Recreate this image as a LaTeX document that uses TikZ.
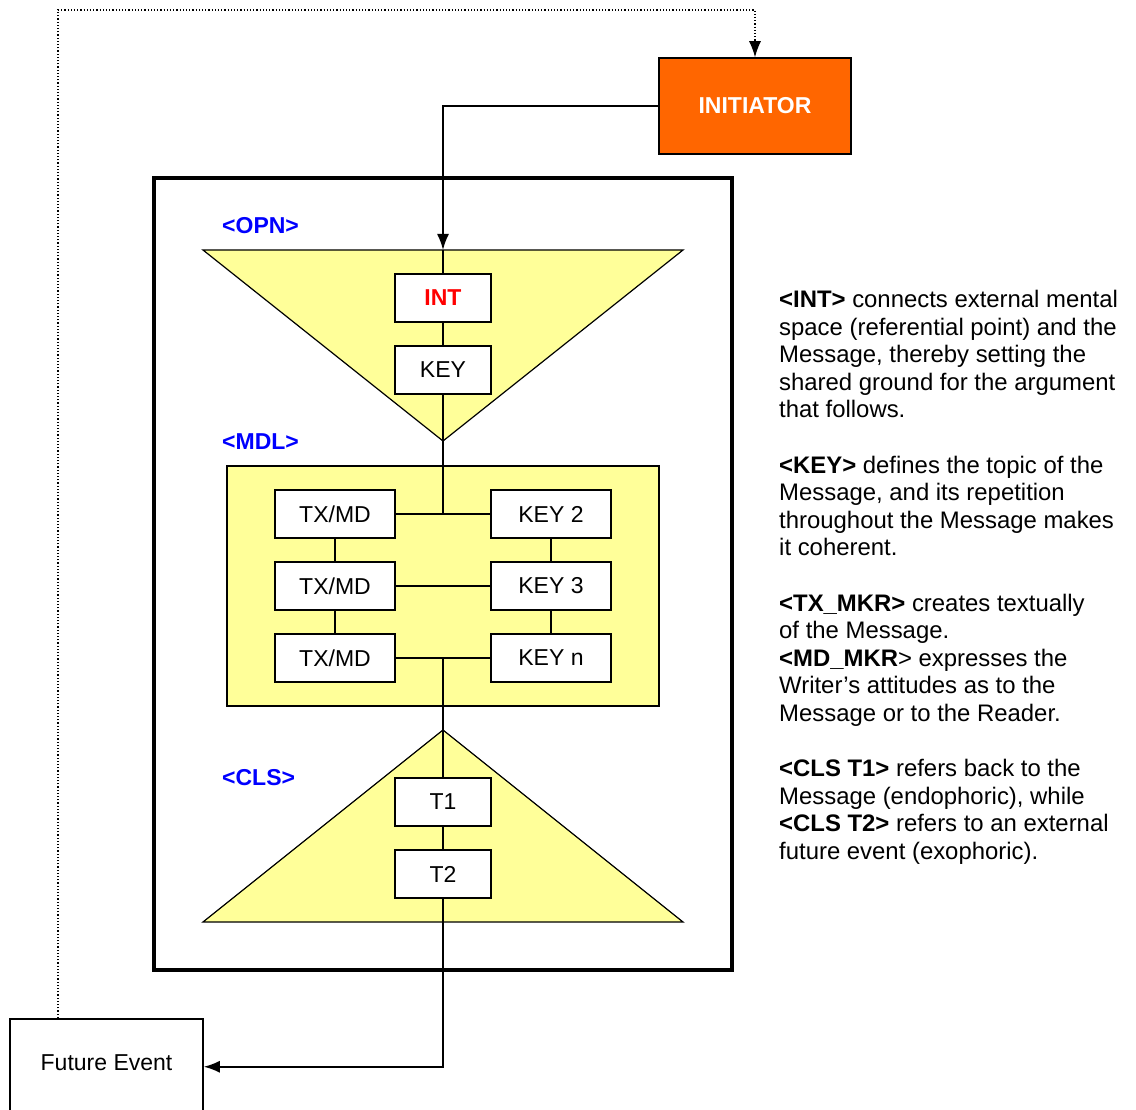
\documentclass[tikz,border=0pt]{standalone}
\usepackage{fontspec}
\setmainfont{Liberation Sans}
\usetikzlibrary{arrows.meta,positioning}
\definecolor{pale}{HTML}{FFFF99}
\definecolor{initorange}{HTML}{FF6600}
\tikzstyle{box} = [shape=rectangle, draw, fill=white,
		line width=1.5pt, anchor=center,
		minimum width=96pt, minimum height=48pt,
		inner sep=0pt, font=\fontsize{23}{27.6}\selectfont]
\tikzstyle{wide} = [box, minimum width=120pt]
\tikzstyle{tag} = [anchor=west, inner sep=0pt, text=blue,
		font=\fontsize{23}{27.6}\selectfont\bfseries]
\tikzstyle{link} = [line width=1.8pt]

\begin{document}
\begin{tikzpicture}[x=1pt,y=-1pt,>={Latex[length=16pt,width=12pt]}]
	\useasboundingbox (0,0) rectangle (1136,1110);
	% outer frame
	\draw[line width=3.5pt] (154,178) rectangle (732,970);
	% opening, middle and closing parts
	\coordinate (opntop) at (443,250);
	\coordinate (opnapex) at (443,441);
	\coordinate (clsapex) at (443,730);
	\draw[fill=pale, line width=1.2pt] (203,250) -- (683,250) -- (opnapex) -- cycle;
	\draw[fill=pale, line width=1.5pt] (227,466) rectangle (659,706);
	\draw[fill=pale, line width=1.2pt] (clsapex) -- (683,922) -- (203,922) -- cycle;
	\node[tag] (opn) at (222,226) {<OPN>};
	\node[tag] (mdl) at (222,442) {<MDL>};
	\node[tag] (cls) at (222,778) {<CLS>};
	\coordinate (j1) at (443,514);
	\coordinate (j3) at (443,658);

	\node[box, minimum width=192pt, minimum height=96pt, fill=initorange,
		text=white, font=\fontsize{23}{27.6}\selectfont\bfseries] (init) at (755,106) {INITIATOR};
	\node[box, text=red, font=\fontsize{23}{27.6}\selectfont\bfseries] (int) at (443,298) {INT};
	\node[box] (key) at (443,370) {KEY};
	\node[wide] (tx1) at (335,514) {TX/MD};
	\node[wide] (tx2) at (335,586) {TX/MD};
	\node[wide] (tx3) at (335,658) {TX/MD};
	\node[wide] (key2) at (551,514) {KEY 2};
	\node[wide] (key3) at (551,586) {KEY 3};
	\node[wide] (keyn) at (551,658) {KEY n};
	\node[box] (t1) at (443,802) {T1};
	\node[box] (t2) at (443,874) {T2};
	\node[box, anchor=north, minimum width=193pt, text height=52pt,
		text depth=44pt] (future) at (106.5,1018) {Future Event};

	\draw [link,->] (init.west) -| (opntop);
	\path [link] (opntop) edge (int);
	\path [link] (int) edge (key);
	\path [link] (key) edge (j1);
	\path [link] (tx1) edge (key2);
	\path [link] (tx1) edge (tx2);
	\path [link] (key2) edge (key3);
	\path [link] (tx2) edge (key3);
	\path [link] (tx2) edge (tx3);
	\path [link] (key3) edge (keyn);
	\path [link] (tx3) edge (keyn);
	\path [link] (j3) edge (t1);
	\path [link] (t1) edge (t2);
	\draw [link,->] (t2) |- (future.east);

	% feedback to the initiator
	\coordinate (fe) at ([xshift=-48.5pt]future.north);
	\coordinate (looptop) at (58,10);
	\draw [line width=1.2pt, dotted, ->] (fe) -- (looptop) -| (init.north);

	\node[anchor=north west, inner sep=0pt, align=left,
		font=\fontsize{23.9}{27.6}\selectfont] (notes) at (779,290)
	{\textbf{<INT>} connects external mental\\
	space (referential point) and the\\
	Message, thereby setting the\\
	shared ground for the argument\\
	that follows.\\[27.6pt]
	\textbf{<KEY>} defines the topic of the\\
	Message, and its repetition\\
	throughout the Message makes\\
	it coherent.\\[27.6pt]
	\textbf{<TX\_MKR>} creates textually\\
	of the Message.\\
	\textbf{<MD\_MKR}> expresses the\\
	Writer’s attitudes as to the\\
	Message or to the Reader.\\[27.6pt]
	\textbf{<CLS T1>} refers back to the\\
	Message (endophoric), while\\
	\textbf{<CLS T2>} refers to an external\\
	future event (exophoric).};
\end{tikzpicture}
\end{document}
